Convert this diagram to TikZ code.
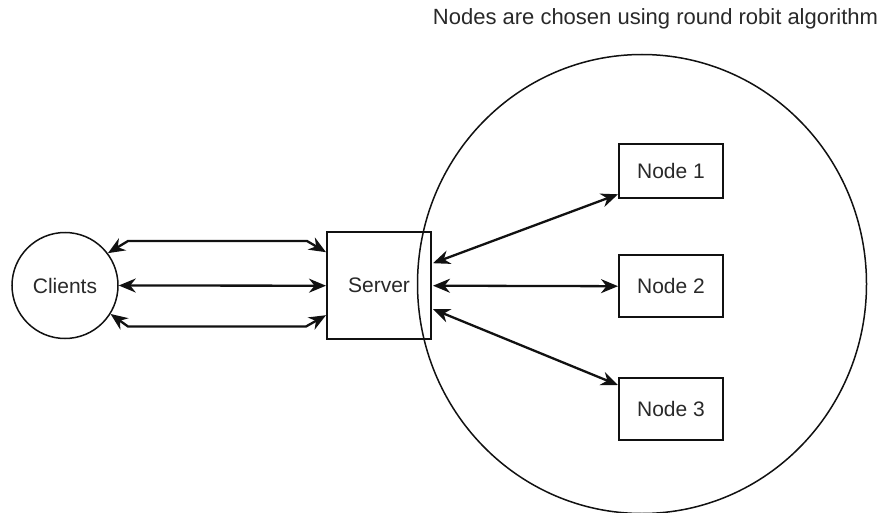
\documentclass[tikz,border=0pt]{standalone}
\usepackage{fontspec}
\setmainfont{Liberation Sans}
\usetikzlibrary{arrows.meta}
\definecolor{ink}{HTML}{111111}
\tikzset{
  box/.style={draw=ink, line width=2pt, minimum width=104pt, inner sep=0pt, text=ink!90, font=\fontsize{21}{25}\selectfont},
  ring/.style={draw=ink, line width=1.5pt, circle, inner sep=0pt, text=ink!90, font=\fontsize{21}{25}\selectfont},
  link/.style={draw=ink, line width=2.3pt, {Stealth[length=17pt,width=14pt,inset=5.5pt]}-{Stealth[length=17pt,width=14pt,inset=5.5pt]}},
}
\begin{document}
\begin{tikzpicture}[x=1pt,y=-1pt]
\useasboundingbox (0,0) rectangle (885,513);
\fill[white] (0,0) rectangle (885,513);

% cluster boundary
\draw[ink, line width=1.5pt] (642,284) ellipse [x radius=224.5, y radius=229.5];

\node[text=ink!90, font=\fontsize{22}{26}\selectfont] (title) at (655.5,19) {Nodes are chosen using round robit algorithm};

\node[ring, minimum size=106pt] (clients) at (65,285.5) {Clients};
\node[box, minimum height=107pt] (server) at (379,285.7) {Server};
\node[box, minimum height=54pt] (n1) at (671,171.3) {Node 1};
\node[box, minimum height=62pt] (n2) at (671,286.2) {Node 2};
\node[box, minimum height=62pt] (n3) at (671,409) {Node 3};

% client links
\coordinate (ta) at (128,241);
\coordinate (tb) at (307,241);
\coordinate (ba) at (128,326.5);
\coordinate (bb) at (306,326.5);
\draw[link] (clients.37) -- (ta) -- (tb) -- ([yshift=-21pt]server.north west);
\draw[link] (clients.east) -- (server.west);
\draw[link] (clients.-32) -- (ba) -- (bb) -- ([yshift=25pt]server.south west);

% node links
\draw[link] ([yshift=-32pt,xshift=1pt]server.north east) -- ([yshift=5pt]n1.south west);
\draw[link] ([xshift=1pt]server.east) -- (n2.west);
\draw[link] ([yshift=31pt,xshift=1pt]server.south east) -- ([yshift=-8pt]n3.north west);
\end{tikzpicture}
\end{document}
